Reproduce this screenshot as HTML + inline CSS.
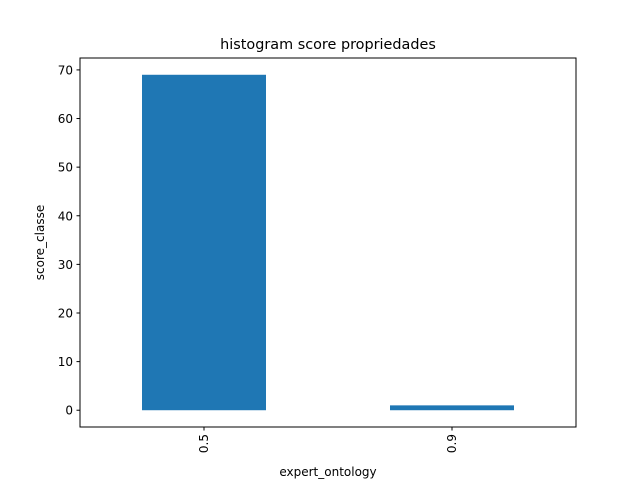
<!DOCTYPE html>
<html><head><meta charset="utf-8"><style>
body{margin:0;background:#fff;}
text{font-family:"DejaVu Sans","Liberation Sans",sans-serif;fill:#000;}
</style></head><body>
<svg id="chart" width="640" height="480" viewBox="0 0 640 480">
<rect width="640" height="480" fill="#fff"/>
<text x="328" y="49" font-size="14.4" text-anchor="middle">histogram score propriedades</text>
<g id="bars"></g>
<g id="yticks"></g>
<g id="xticks"></g>
<rect x="80" y="58" width="496" height="369" fill="none" stroke="#000" stroke-width="1"/>
<text x="328" y="476" font-size="12" text-anchor="middle">expert_ontology</text>
<text transform="translate(44,242.5) rotate(-90)" font-size="12" text-anchor="middle">score_classe</text>
</svg>
<script>
const categories=["0.5","0.9"];
const values=[69,1];
const yTickLabels=[0,10,20,30,40,50,60,70];
const NS="http://www.w3.org/2000/svg";
const x0=80,x1=576,yTop=58,yBot=427;
const yMin=-3.45,yMax=72.45;
function ys(v){return yBot-(v-yMin)/(yMax-yMin)*(yBot-yTop);}
function xs(i){return x0+(i+0.5)/categories.length*(x1-x0);}
const bw=(x1-x0)/categories.length*0.5;
function mk(t,a){const e=document.createElementNS(NS,t);for(const k in a)e.setAttribute(k,a[k]);return e;}
const bars=document.getElementById('bars');
values.forEach((v,i)=>{
 const r=mk('rect',{x:xs(i)-bw/2,y:ys(v),width:bw,height:ys(0)-ys(v),fill:'#1f77b4'});
 
 
 bars.appendChild(r);
});
const yt=document.getElementById('yticks');
yTickLabels.forEach(v=>{
 const y=ys(v);
 const l=mk('line',{x1:x0-3.5,x2:x0,y1:y,y2:y,stroke:'#000'});
 
 
 yt.appendChild(l);
 const t=mk('text',{x:x0-7,y:y+4.5,'font-size':12,'text-anchor':'end'});
 t.textContent=v;
 
 
 yt.appendChild(t);
});
const xt=document.getElementById('xticks');
categories.forEach((c,i)=>{
 const x=xs(i);
 const l=mk('line',{x1:x,x2:x,y1:yBot,y2:yBot+3.5,stroke:'#000'});
 
 
 xt.appendChild(l);
 const t=mk('text',{transform:`translate(${x+4},${yBot+7}) rotate(-90)`,'font-size':12,'text-anchor':'end'});
 t.textContent=c;
 
 
 xt.appendChild(t);
});
</script>
</body></html>
